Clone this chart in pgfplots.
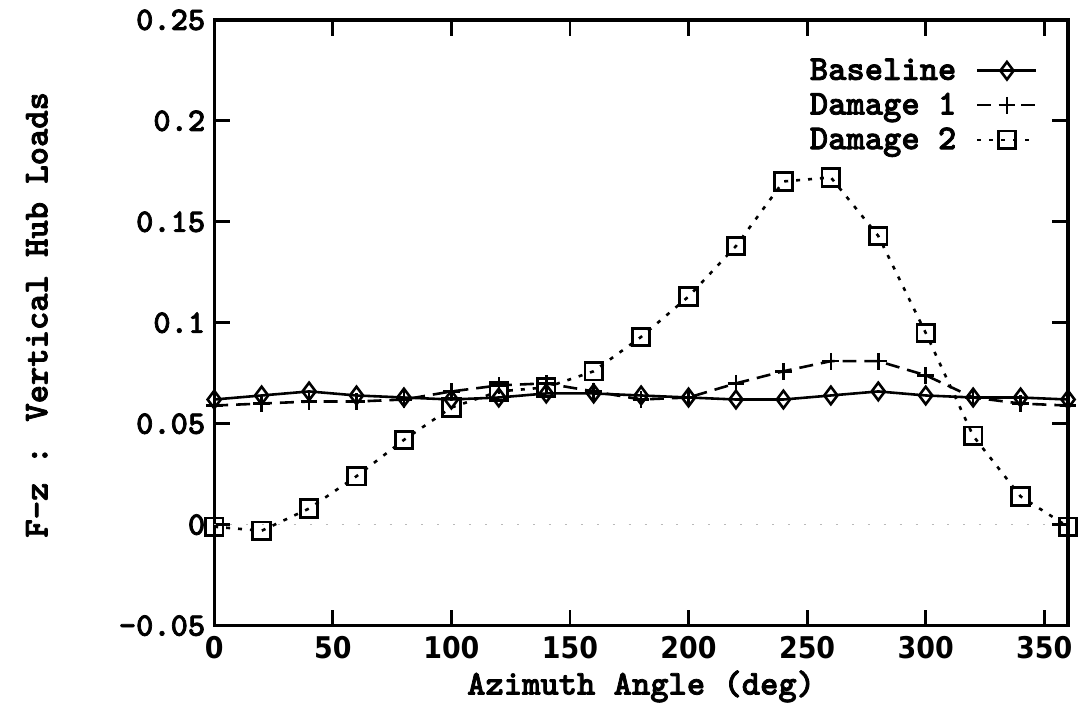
\documentclass[border=0pt]{standalone}
\usepackage{fontspec}
\setmainfont{lmmonolt10-bold.otf}[AutoFakeBold=2.2]
\newfontfamily\xtf{DejaVu Sans Condensed}
\usepackage{pgfplots}
\pgfplotsset{compat=1.18}
\begin{document}
\bfseries
\begin{tikzpicture}
\begin{axis}[
  name=ax,
  scale only axis,
  width=428.5pt, height=304pt,
  xmin=0, xmax=360, ymin=-0.05, ymax=0.25,
  clip=false,
  axis line style={line width=1.6pt},
  every tick/.style={black, line width=1.4pt},
  major tick length=8pt,
  tick align=inside,
  xtick={0,50,100,150,200,250,300,350},
  xticklabels={0,50,100,150,200,250,300,350},
  ytick={-0.05,0,0.05,0.1,0.15,0.2,0.25},
  yticklabels={-0.05,0,0.05,0.1,0.15,0.2,0.25},
  xticklabel style={font=\xtf\bfseries\fontsize{15}{18}\selectfont, yshift=-2pt},
  yticklabel style={font=\bfseries\fontsize{16.5}{19}\selectfont, xshift=-1pt},
  legend plot pos=right,
  legend cell align=right,
  legend style={at={(rel axis cs:0.972,0.95)}, anchor=north east, draw=none, fill=none,
    font=\bfseries\fontsize{17.5}{17.5}\selectfont, row sep=1pt},
  legend image code/.code={\path (-0.28cm,0cm); \draw[mark repeat=2,mark phase=2] plot coordinates {(0cm,0cm)(0.52cm,0cm)(1.04cm,0cm)};},
]
\draw[gray!55, line width=0.6pt, dash pattern=on 1pt off 7pt] (axis cs:0,0) -- (axis cs:360,0);
\addplot[black, line width=1.3pt, mark=diamond, mark size=4.4pt, mark options={solid, line width=1.3pt}] coordinates {
(0,0.062)(20,0.064)(40,0.066)(60,0.064)(80,0.063)(100,0.062)(120,0.063)(140,0.065)(160,0.065)(180,0.064)(200,0.063)(220,0.062)(240,0.062)(260,0.064)(280,0.066)(300,0.064)(320,0.063)(340,0.063)(360,0.062)};
\addlegendentry{Baseline}
\addplot[black, line width=1.3pt, dash pattern=on 7pt off 4pt, mark=+, mark size=4.2pt, mark options={solid, line width=1.3pt}] coordinates {
(0,0.059)(20,0.060)(40,0.061)(60,0.061)(80,0.062)(100,0.066)(120,0.069)(140,0.070)(160,0.066)(180,0.062)(200,0.063)(220,0.070)(240,0.076)(260,0.081)(280,0.081)(300,0.074)(320,0.063)(340,0.060)(360,0.059)};
\addlegendentry{Damage 1}
\addplot[black, line width=1.3pt, dash pattern=on 2pt off 4pt, mark=square, mark size=4.4pt, mark options={solid, line width=1.4pt}] coordinates {
(0,-0.001)(20,-0.003)(40,0.008)(60,0.024)(80,0.042)(100,0.058)(120,0.066)(140,0.068)(160,0.076)(180,0.093)(200,0.113)(220,0.138)(240,0.170)(260,0.172)(280,0.143)(300,0.095)(320,0.044)(340,0.014)(360,-0.001)};
\addlegendentry{Damage 2}
\end{axis}
\node[rotate=90, font=\bfseries\fontsize{17.5}{20}\selectfont] at ([xshift=-89pt, yshift=4pt]ax.west) {F-z : Vertical Hub Loads};
\node[font=\bfseries\fontsize{17.5}{20}\selectfont] at ([yshift=-30.5pt]ax.south) {Azimuth Angle (deg)};
\path ([shift={(-107.5pt,-43pt)}]ax.south west) rectangle ([shift={(3.5pt,10pt)}]ax.north east);
\end{tikzpicture}
\end{document}
